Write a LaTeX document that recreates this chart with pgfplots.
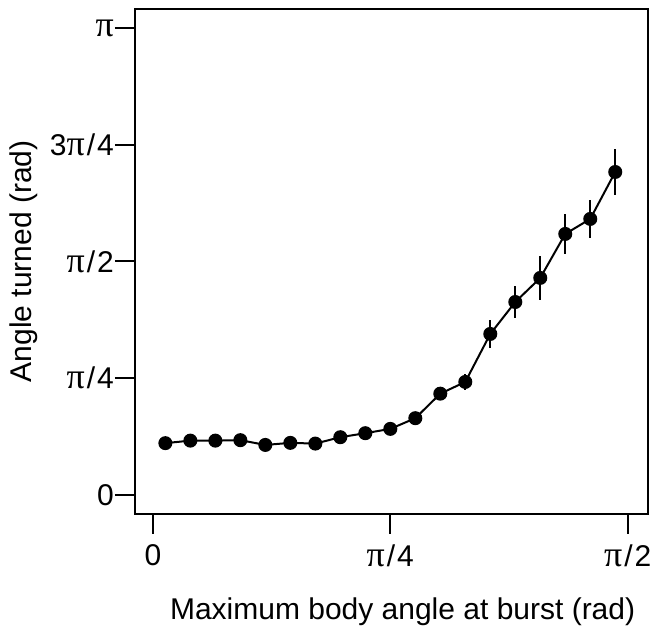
\documentclass[border=0pt]{standalone}
\usepackage{pgfplots}
\pgfplotsset{compat=1.18}
\usepackage{fontspec}
\setmainfont{Liberation Sans}
\newfontfamily\pf{Liberation Serif}
\newcommand\PI{{\pf\fontsize{18}{18}\selectfont π}}
\newcommand\SL{\kern1pt/\kern1pt}

\begin{document}
\begin{tikzpicture}
\begin{axis}[
  scale only axis,
  width=256.5pt, height=252.5pt,
  xmin=-0.0595, xmax=1.637,
  ymin=-0.128, ymax=3.27,
  axis line style={line width=1pt},
  every tick/.style={black, line width=1pt},
  tick align=outside,
  major tick length=10pt,
  xtick pos=bottom, ytick pos=left,
  xtick={0,0.7854,1.5708},
  xticklabels={0,\PI\SL4,\PI\SL2},
  ytick={0,0.7854,1.5708,2.3562,3.1416},
  yticklabels={0,\PI\SL4,\PI\SL2,3\PI\SL4,\PI},
  tick label style={font=\fontsize{15}{17}\selectfont},
  yticklabel style={xshift=3pt},
  xticklabel style={yshift=-2pt},
  label style={font=\fontsize{15}{17}\selectfont},
  xlabel={Maximum body angle at burst (rad)},
  ylabel={Angle turned (rad)},
  xlabel style={at={(axis description cs:0.522,-0.21)}, anchor=base},
  ylabel style={at={(axis description cs:-0.216,0.5)}, anchor=center},
  clip=false,
]
\addplot[black, line width=1pt, mark=*, mark size=3pt,
  error bars/.cd, y dir=both, y explicit,
  error mark=none, error bar style={line width=1pt}]
  table[x=x, y=y, y error=e] {
x      y      e
0.0413 0.348  0.02
0.1240 0.365  0.02
0.2067 0.365  0.02
0.2894 0.368  0.02
0.3720 0.336  0.02
0.4547 0.350  0.02
0.5374 0.345  0.02
0.6200 0.388  0.02
0.7027 0.415  0.02
0.7854 0.444  0.02
0.8681 0.516  0.03
0.9507 0.681  0.04
1.0334 0.760  0.055
1.1161 1.083  0.094
1.1988 1.298  0.105
1.2814 1.460  0.148
1.3641 1.756  0.135
1.4468 1.857  0.13
1.5294 2.173  0.158
};
\path (rel axis cs:-0.263,-0.2317) rectangle (rel axis cs:1.0195,1.0178);
\end{axis}
\end{tikzpicture}
\end{document}
